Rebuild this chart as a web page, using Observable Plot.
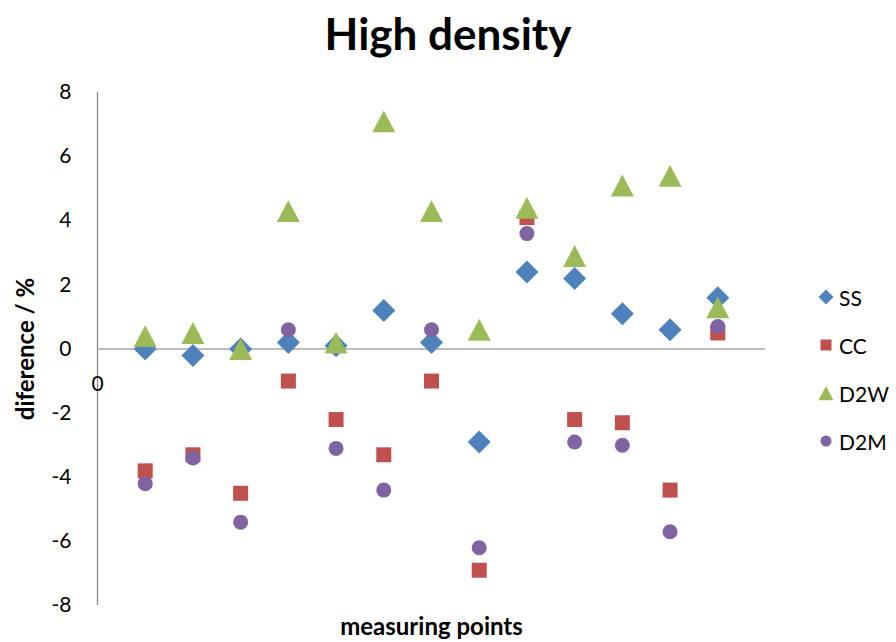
<!DOCTYPE html>
<html>
<head>
<meta charset="utf-8">
<script src="https://cdn.jsdelivr.net/npm/d3@7"></script>
<script src="https://cdn.jsdelivr.net/npm/@observablehq/plot@0.6"></script>
<style>
  body { margin: 0; background: #fff; }
  #wrap { position: relative; width: 896px; height: 642px; font-family: Lato, "Open Sans", sans-serif; color: #000; }
  #title { position: absolute; left: 0; top: 0; width: 896px; height: 66px; line-height: 66px; text-align: center; font-weight: bold; font-size: 44px; }
  #chart { position: absolute; left: 0; top: 70px; }
  #legend { position: absolute; left: 817px; top: 273px; font-size: 21px; }
  .li { display: flex; align-items: center; height: 48px; }
  .li svg { margin-right: 4px; }
</style>
</head>
<body>
<div id="wrap">
  <div id="title">High density</div>
  <div id="chart"></div>
  <div id="legend"></div>
</div>
<script>
// ---- data ----
const points = [1, 2, 3, 4, 5, 6, 7, 8, 9, 10, 11, 12, 13];
const seriesNames = ["SS", "CC", "D2W", "D2M"];
const ssValues  = [0.0, -0.2, 0.0, 0.2, 0.1, 1.2, 0.2, -2.9, 2.4, 2.2, 1.1, 0.6, 1.6];
const ccValues  = [-3.8, -3.3, -4.5, -1.0, -2.2, -3.3, -1.0, -6.9, 4.1, -2.2, -2.3, -4.4, 0.5];
const d2wValues = [0.4, 0.5, 0.0, 4.3, 0.2, 7.1, 4.3, 0.6, 4.4, 2.9, 5.1, 5.4, 1.3];
const d2mValues = [-4.2, -3.4, -5.4, 0.6, -3.1, -4.4, 0.6, -6.2, 3.6, -2.9, -3.0, -5.7, 0.7];
const yTicks = [-8, -6, -4, -2, 0, 2, 4, 6, 8];
const xTickLabels = [0];
const yTitle = "diference / %";
const xTitle = "measuring points";

const colors = {SS: "#4F81BD", CC: "#C0504D", D2W: "#9BBB59", D2M: "#8064A2"};

// custom symbols (r = sqrt(size/π))
const diamond = {draw(ctx, size) { const r = Math.sqrt(size / Math.PI); ctx.moveTo(0, -r); ctx.lineTo(r, 0); ctx.lineTo(0, r); ctx.lineTo(-r, 0); ctx.closePath(); }};
const square = {draw(ctx, size) { const r = Math.sqrt(size / Math.PI); ctx.rect(-r, -r, 2 * r, 2 * r); }};
const triangle = {draw(ctx, size) { const r = Math.sqrt(size / Math.PI); const h = 0.95 * r; ctx.moveTo(0, -h); ctx.lineTo(r, h); ctx.lineTo(-r, h); ctx.closePath(); }};
const circle = {draw(ctx, size) { const r = Math.sqrt(size / Math.PI); ctx.moveTo(r, 0); ctx.arc(0, 0, r, 0, 2 * Math.PI); }};

const seriesDefs = [
  {name: "SS", values: ssValues, symbol: diamond, r: 11.5, lr: 7.5},
  {name: "CC", values: ccValues, symbol: square, r: 7.5, lr: 5.5},
  {name: "D2W", values: d2wValues, symbol: triangle, r: 11.5, lr: 7.5},
  {name: "D2M", values: d2mValues, symbol: circle, r: 7.5, lr: 5.5}
];

const rows = seriesDefs.flatMap(s => points.map((p, i) => ({series: s.name, point: p, value: s.values[i]})));

const chart = Plot.plot({
  width: 896,
  height: 572,
  marginLeft: 97,
  marginRight: 131,
  marginTop: 22,
  marginBottom: 37,
  style: {fontFamily: "Lato, 'Open Sans', sans-serif", fontSize: "21px", color: "#000", background: "transparent", overflow: "visible"},
  x: {domain: [0, 14], axis: null},
  y: {domain: [-8, 8], axis: null},
  marks: [
    Plot.ruleX([0], {y1: -8, y2: 8, stroke: "#8a8a8a", strokeWidth: 1.3}),
    Plot.ruleY([0], {x1: 0, x2: 14, stroke: "#a6a6a6", strokeWidth: 1.3}),
    Plot.axisY({ticks: yTicks, tickSize: 0, tickPadding: 26, fontSize: 21, tickFormat: d => String(d), label: null}),
    Plot.text(xTickLabels, {x: d => d, y: 0, text: d => String(d), dy: 35, fontSize: 21}),
    Plot.text([yTitle], {frameAnchor: "left", textAnchor: "middle", rotate: -90, dx: -71, fontWeight: "bold", fontSize: 24}),
    Plot.text([xTitle], {frameAnchor: "bottom", textAnchor: "middle", dy: 29, fontWeight: "bold", fontSize: 24}),
    ...seriesDefs.map(s => Plot.dot(rows.filter(d => d.series === s.name), {
      x: "point", y: "value", symbol: () => s.symbol, r: s.r, fill: colors[s.name], stroke: "none"
    }))
  ]
});
document.getElementById("chart").appendChild(chart);

// legend
const legend = document.getElementById("legend");
for (const s of seriesDefs) {
  const item = document.createElement("div");
  item.className = "li";
  const sz = 18;
  const svg = d3.create("svg").attr("width", sz).attr("height", sz);
  const path = d3.path();
  s.symbol.draw(path, Math.PI * s.lr * s.lr);
  svg.append("path").attr("transform", `translate(${sz / 2},${sz / 2})`).attr("d", path.toString()).attr("fill", colors[s.name]);
  item.appendChild(svg.node());
  const t = document.createElement("span");
  t.textContent = s.name;
  item.appendChild(t);
  legend.appendChild(item);
}
</script>
</body>
</html>
